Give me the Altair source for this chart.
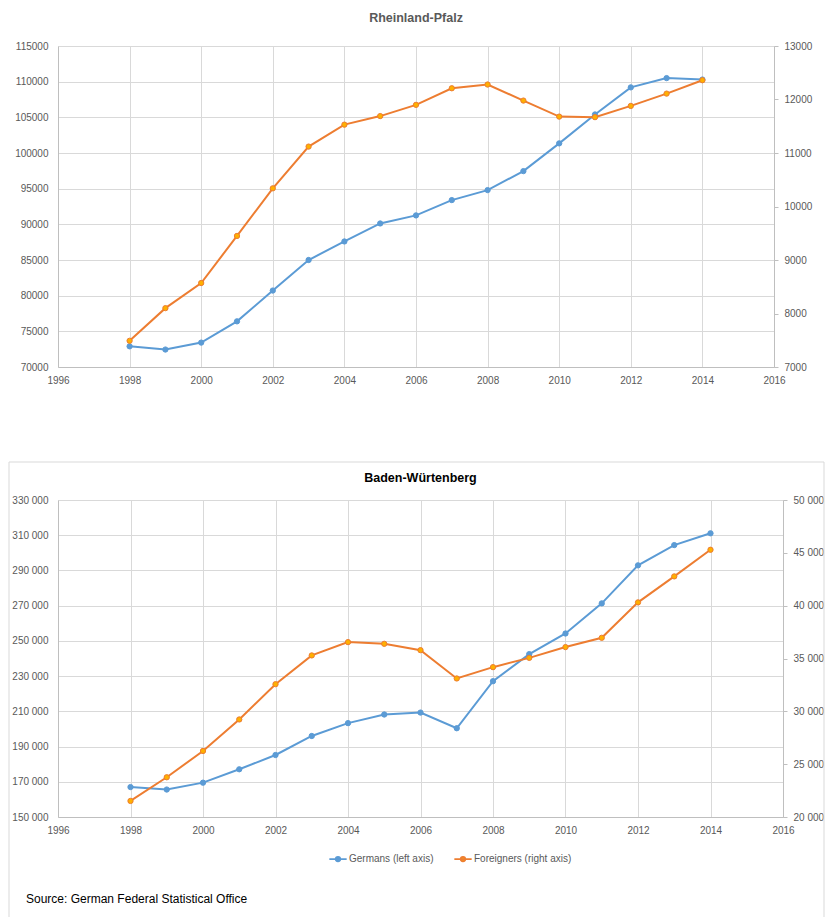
import altair as alt
import pandas as pd

# Population with a migration background, by nationality group
years = list(range(1998, 2015))

GERMANS = "Germans (left axis)"
FOREIGNERS = "Foreigners (right axis)"

rp_germans = [72900, 72450, 73420, 76400, 80720, 85000, 87600, 90120, 91250,
              93400, 94800, 97460, 101350, 105400, 109200, 110500, 110300]
rp_foreigners = [7490, 8100, 8570, 9450, 10340, 11120, 11530, 11690, 11900,
                 12210, 12280, 11980, 11680, 11670, 11880, 12110, 12360]

bw_germans = [167000, 165600, 169500, 177100, 185200, 196000, 203300, 208200, 209300,
              200400, 227100, 242500, 254200, 271300, 292900, 304400, 311100]
bw_foreigners = [21520, 23760, 26250, 29230, 32570, 35290, 36550, 36390, 35790,
                 33110, 34180, 35060, 36080, 36960, 40310, 42770, 45290]

x_ticks = list(range(1996, 2017, 2))
SOURCE = "Source: German Federal Statistical Office"

FONT = "Liberation Sans, Arial, sans-serif"
TEXT_GREY = "#595959"
GRID = "#D9D9D9"
DOMAIN = "#BFBFBF"
BLUE = "#5B9BD5"
ORANGE = "#ED7D31"
GOLD = "#FFB000"
TICK_SIZE = 10

# legend glyph: short line with a dot in the middle
LEGEND_GLYPH = "M-1,0L1,0M-0.26,0A0.26,0.26,0,1,1,0.26,0A0.26,0.26,0,1,1,-0.26,0Z"


def axis_props(spaced, **extra):
    props = dict(title=None, labelFont=FONT, labelFontSize=TICK_SIZE, labelColor=TEXT_GREY,
                 domainColor=DOMAIN, gridColor=GRID, labelPadding=10, labelFlush=False)
    if spaced:
        props["labelExpr"] = "floor(datum.value / 1000) + ' 000'"
    else:
        props["format"] = "d"
    props.update(extra)
    return alt.Axis(**props)


def panel(region, germans, foreigners, left_dom, left_step, right_dom, right_step,
          spaced, width, height, title_color, title_offset, legend):
    df = pd.DataFrame({
        "year": years * 2,
        "value": germans + foreigners,
        "series": [GERMANS] * len(years) + [FOREIGNERS] * len(years),
    })
    base = alt.Chart(df)
    dom = [GERMANS, FOREIGNERS]

    x = alt.X("year:Q", scale=alt.Scale(domain=[1996, 2016], nice=False, zero=False),
              axis=alt.Axis(values=x_ticks, format="d", title=None, labelFont=FONT,
                            labelFontSize=TICK_SIZE, labelColor=TEXT_GREY, domainColor=DOMAIN,
                            gridColor=GRID, ticks=False, labelPadding=8, labelFlush=False))

    if legend:
        leg = alt.Legend(orient="none", legendX=270, legendY=349, direction="horizontal",
                         title=None, symbolType=LEGEND_GLYPH, symbolSize=300,
                         symbolStrokeWidth=1.8, labelFont=FONT, labelFontSize=10,
                         labelColor=TEXT_GREY, columnPadding=16, labelOffset=1, padding=0)
    else:
        leg = None
    color = alt.Color("series:N", scale=alt.Scale(domain=dom, range=[BLUE, ORANGE]), legend=leg)
    fill = alt.Fill("series:N", scale=alt.Scale(domain=dom, range=[BLUE, GOLD]), legend=None)
    stroke = alt.Stroke("series:N", scale=alt.Scale(domain=dom, range=[BLUE, ORANGE]), legend=None)

    def series(name, y):
        src = base.transform_filter(alt.datum.series == name)
        line = src.mark_line(strokeWidth=2).encode(x=x, y=y, color=color)
        dots = src.mark_point(filled=True, size=28, strokeWidth=1, opacity=1).encode(
            x=x, y=y, fill=fill, stroke=stroke)
        return alt.layer(line, dots)

    y_left = alt.Y("value:Q", scale=alt.Scale(domain=left_dom, nice=False, zero=False),
                   axis=axis_props(spaced, orient="left", ticks=False,
                                   values=list(range(left_dom[0], left_dom[1] + 1, left_step))))
    y_right = alt.Y("value:Q", scale=alt.Scale(domain=right_dom, nice=False, zero=False),
                    axis=axis_props(spaced, orient="right", grid=False, ticks=True, tickSize=4,
                                    tickColor=DOMAIN, labelPadding=6,
                                    values=list(range(right_dom[0], right_dom[1] + 1, right_step))))

    layers = [series(GERMANS, y_left), series(FOREIGNERS, y_right)]

    if legend:
        frame = alt.Chart(pd.DataFrame({"k": [0]})).mark_rect(
            fill="transparent", stroke=GRID, strokeWidth=1).encode(
            x=alt.value(-49), x2=alt.value(766), y=alt.value(-38), y2=alt.value(430))
        note = alt.Chart(pd.DataFrame({"note": [SOURCE]})).mark_text(
            align="left", baseline="middle", font=FONT, fontSize=12, color="#000000").encode(
            text="note:N", x=alt.value(-32), y=alt.value(399))
        layers = [frame] + layers + [note]

    return alt.layer(*layers).resolve_scale(y="independent").properties(
        width=width, height=height,
        title=alt.TitleParams(region, font=FONT, fontSize=12.5, fontWeight="bold",
                              color=title_color, offset=title_offset))


top = panel("Rheinland-Pfalz", rp_germans, rp_foreigners, [70000, 115000], 5000,
            [7000, 13000], 1000, False, 716, 321, TEXT_GREY, 17, False)
bottom = panel("Baden-Würtenberg", bw_germans, bw_foreigners, [150000, 330000], 20000,
               [20000, 50000], 5000, True, 725, 317, "#000000", -23, True)

chart = alt.vconcat(top, bottom, spacing=75).resolve_scale(
    color="independent", fill="independent", stroke="independent"
).properties(
    padding={"left": 8, "top": 11, "right": 0, "bottom": 0}
).configure_view(stroke="transparent")

chart.save("out.html", embed_options={"renderer": "svg", "actions": False})
